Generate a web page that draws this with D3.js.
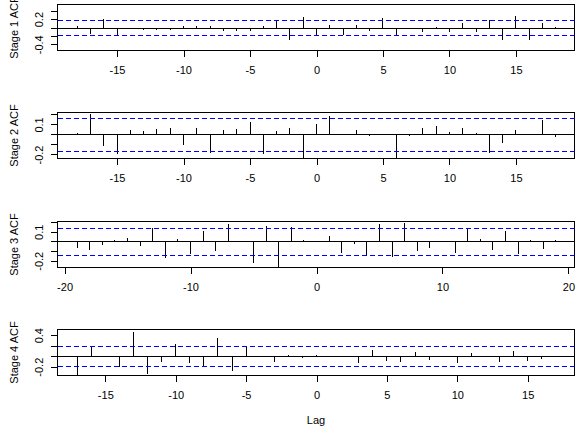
<!DOCTYPE html>
<html><head><meta charset="utf-8">
<script src="https://cdn.jsdelivr.net/npm/d3@7"></script>
<style>body{margin:0;background:#fff}svg{display:block}text{font-family:"Liberation Sans",Arial,sans-serif}line,rect{shape-rendering:crispEdges}</style>
</head><body>
<svg id="c" width="584" height="433"></svg>
<script>
// ---- data ----
const lags1 = [-18,-17,-16,-15,-14,-13,-12,-11,-10,-9,-8,-7,-6,-5,-4,-3,-2,-1,0,1,2,3,4,5,6,7,8,9,10,11,12,13,14,15,16,17,18];
const acf1 = [0.056,-0.127,0.22,-0.16,0.005,-0.03,-0.03,-0.03,0.064,0.064,0.064,-0.064,-0.064,-0.064,0.064,0.2,-0.28,0.28,-0.16,0.08,-0.16,0.08,-0.056,0.256,-0.16,0.01,-0.08,0.03,-0.08,0.128,-0.08,0.2,-0.27,0.3,-0.27,0.128,0.03];
const lags2 = [-18,-17,-16,-15,-14,-13,-12,-11,-10,-9,-8,-7,-6,-5,-4,-3,-2,-1,0,1,2,3,4,5,6,7,8,9,10,11,12,13,14,15,16,17,18];
const acf2 = [0.024,0.218,-0.11,-0.19,0.052,0.042,0.063,0.073,-0.097,0.073,-0.174,0.052,0.063,0.136,-0.184,0.042,0.073,-0.226,0.115,0.19,0.005,0.052,-0.01,0.017,-0.238,-0.01,0.073,0.094,0.031,0.073,0.021,-0.174,-0.08,0.052,0.014,0.15,-0.014];
const lags3 = [-19,-18,-17,-16,-15,-14,-13,-12,-11,-10,-9,-8,-7,-6,-5,-4,-3,-2,-1,0,1,2,3,4,5,6,7,8,9,10,11,12,13,14,15,16,17,18,19];
const acf3 = [-0.06,-0.077,-0.025,0.025,0.046,-0.039,0.147,-0.16,0.035,-0.12,0.123,-0.088,0.193,0.005,-0.214,0.172,-0.26,0.161,0.028,0.018,0.067,-0.109,-0.014,-0.133,0.193,-0.154,0.207,-0.088,-0.06,0.014,-0.109,0.137,0.035,-0.077,0.12,-0.12,0.027,-0.067,0.028];
const lags4 = [-17,-16,-15,-14,-13,-12,-11,-10,-9,-8,-7,-6,-5,-4,-3,-2,-1,0,1,2,3,4,5,6,7,8,9,10,11,12,13,14,15,16,17];
const acf4 = [-0.337,0.21,0.025,-0.19,0.483,-0.318,-0.089,0.254,-0.108,-0.19,0.368,-0.26,0.21,0.008,-0.089,0.044,-0.025,0.038,0.005,0.02,-0.108,0.14,-0.064,-0.089,0.1,-0.057,0.025,-0.108,0.083,0.02,-0.089,0.12,-0.064,-0.032,0.01];
const titles = ["Stage 1 ACF","Stage 2 ACF","Stage 3 ACF","Stage 4 ACF"];
const clims = [0.167,0.162,0.142,0.19];
const xlims = [[-19.44,19.44],[-19.44,19.44],[-20.52,20.52],[-18.36,18.36]];
const ylims = [[-0.548,0.548],[-0.24,0.219],[-0.27,0.207],[-0.368,0.508]];
const xTicks = [[-15,-10,-5,0,5,10,15],[-15,-10,-5,0,5,10,15],[-20,-10,0,10,20],[-15,-10,-5,0,5,10,15]];
const yTicks = [[-0.4,-0.2,0,0.2,0.4],[-0.2,-0.1,0,0.1,0.2],[-0.2,-0.1,0,0.1,0.2],[-0.2,0,0.2,0.4]];
const yLabelled = [[-0.4,0.2],[-0.2,0.1],[-0.2,0.1],[-0.2,0.4]];
const xLabel = "Lag";

const lagsAll = [lags1,lags2,lags3,lags4];
const acfAll = [acf1,acf2,acf3,acf4];

// ---- layout ----
const svg = d3.select("#c");
const L = 57.5, R = 574.5, H = 46, top0 = 4.5, step = 108.3;
const fs = 11;
const fmt = d => d<0 ? "-"+Math.abs(d) : String(d);

for (let p = 0; p < 4; p++) {
  const top = Math.floor(top0 + step*p) + 0.5;
  const bot = top + H;
  const x = d3.scaleLinear().domain(xlims[p]).range([L, R]);
  const y = d3.scaleLinear().domain(ylims[p]).range([bot, top]);
  const g = svg.append("g");
  const data = lagsAll[p].map((l,i)=>({lag:l, v:acfAll[p][i]}));

  const y0 = Math.round(y(0))+0.5;
  // bars
  g.selectAll("line.bar").data(data).join("line").attr("class","bar")
    .attr("x1",d=>Math.round(x(d.lag))+0.5).attr("x2",d=>Math.round(x(d.lag))+0.5)
    .attr("y1",y0).attr("y2",d=>Math.round(y(d.v))+0.5)
    .attr("stroke","#000").attr("stroke-width",1);
  // box
  g.append("rect").attr("x",L).attr("y",top).attr("width",R-L).attr("height",H)
    .attr("fill","none").attr("stroke","#000").attr("stroke-width",1);
  // zero line
  g.append("line").attr("x1",L).attr("x2",R).attr("y1",y0).attr("y2",y0)
    .attr("stroke","#000").attr("stroke-width",1);
  // confidence lines (drawn last, on top)
  g.selectAll("line.clim").data([clims[p], -clims[p]]).join("line").attr("class","clim")
    .attr("x1",L).attr("x2",R)
    .attr("y1",c=>Math.round(y(c))+0.5).attr("y2",c=>Math.round(y(c))+0.5)
    .attr("stroke","blue").attr("stroke-width",1).attr("stroke-dasharray","5,3");

  // x axis
  const xa = g.append("g").attr("transform",`translate(0,${bot})`)
    .call(d3.axisBottom(x).tickValues(xTicks[p]).tickSize(6).tickFormat(fmt));
  xa.select(".domain").remove();
  xa.selectAll(".tick line").attr("stroke","#000").attr("transform","translate(0.5,0)");
  xa.selectAll(".tick text").attr("y",null).attr("dy",null).attr("transform","translate(0.5,23.5)")
    .attr("font-size",fs).attr("font-family","Liberation Sans, Arial, sans-serif").attr("fill","#000");

  // y axis
  const lab = yLabelled[p];
  const ya = g.append("g").attr("transform",`translate(${L},0)`)
    .call(d3.axisLeft(y).tickValues(yTicks[p]).tickSize(7)
      .tickFormat(d=> lab.some(v=>Math.abs(v-d)<1e-9) ? fmt(d) : ""));
  ya.select(".domain").remove();
  ya.selectAll(".tick line").attr("stroke","#000");
  ya.selectAll(".tick text").attr("x",null).attr("dy",null)
    .attr("transform","translate(-14.5,0) rotate(-90)")
    .attr("text-anchor","middle").attr("font-size",fs)
    .attr("font-family","Liberation Sans, Arial, sans-serif").attr("fill","#000");

  // y title
  g.append("text").attr("transform",`translate(17.5,${top+H/2}) rotate(-90)`)
    .attr("text-anchor","middle").attr("font-size",fs).attr("fill","#000").text(titles[p]);
}
svg.append("text").attr("x",(L+R)/2).attr("y",424).attr("text-anchor","middle")
  .attr("font-size",fs).attr("fill","#000").text(xLabel);
</script>
</body></html>
